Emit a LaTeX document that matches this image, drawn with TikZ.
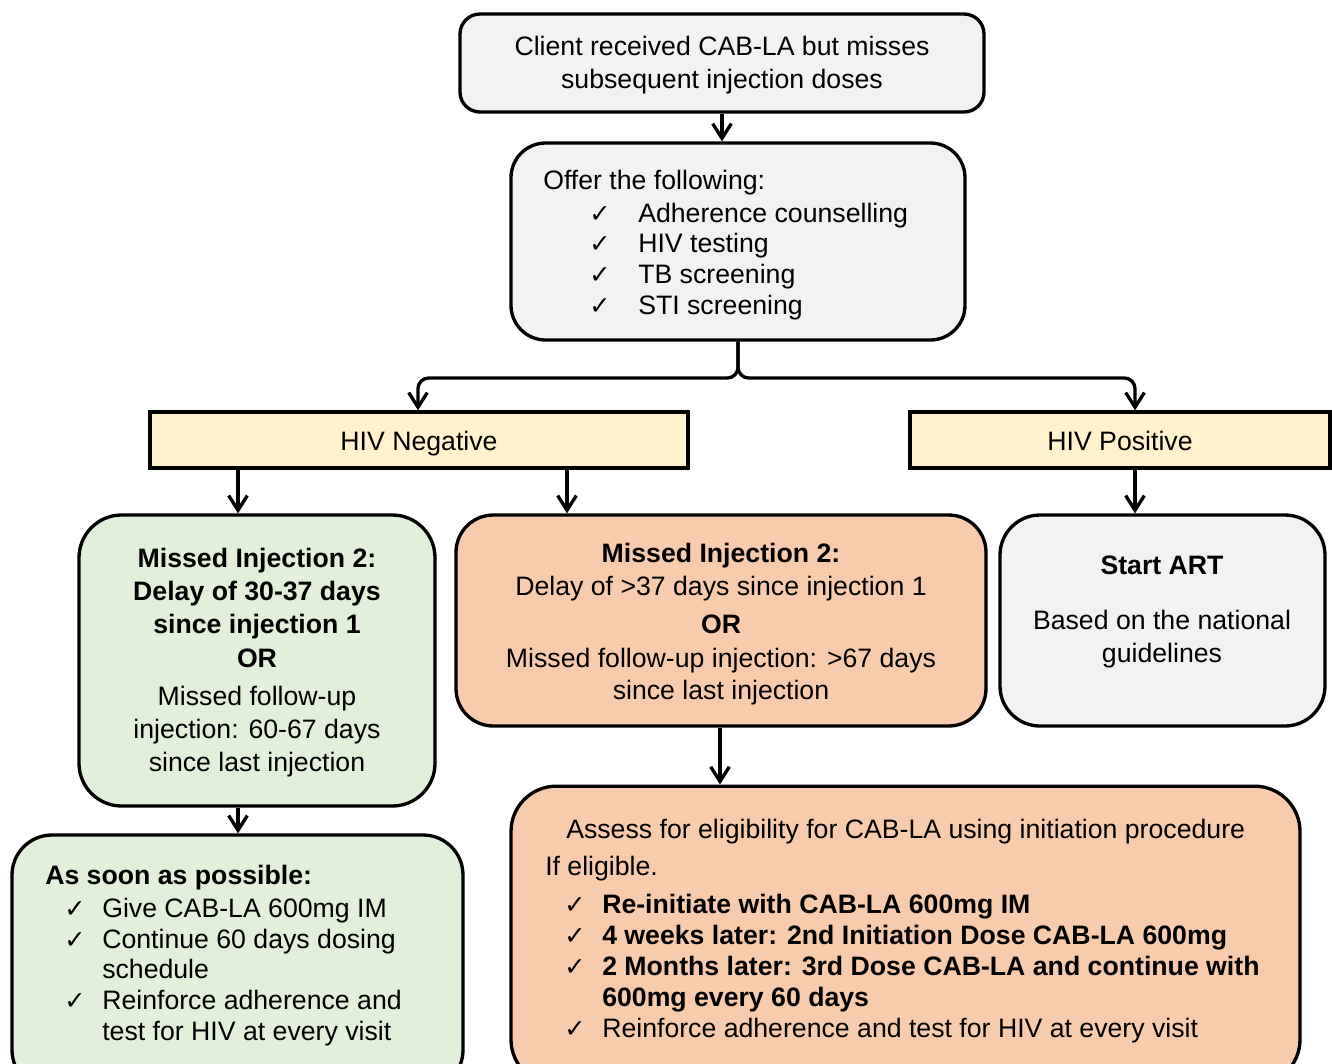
\documentclass[tikz,border=0pt]{standalone}
\usepackage{fontspec}
\setmainfont{Liberation Sans}
\newfontfamily\symfont{DejaVu Sans}
\usetikzlibrary{arrows.meta}
\definecolor{boxgray}{HTML}{F2F2F2}
\definecolor{boxyellow}{HTML}{FFF2CC}
\definecolor{boxgreen}{HTML}{E2EFDA}
\definecolor{boxorange}{HTML}{F8CBAD}
\tikzset{
  box/.style={draw=black, line width=2.5pt, fill=#1, inner sep=0pt},
  hivbox/.style={box=boxyellow, minimum height=42pt, font=\fontsize{20pt}{24pt}\selectfont, text height=19pt, text depth=4pt},
  txt/.style={inner sep=0pt, font=\fontsize{20pt}{24pt}\selectfont, anchor=base},
  txtl/.style={txt, anchor=base west},
  chk/.style={inner sep=0pt, font=\symfont\fontsize{19pt}{22pt}\selectfont, anchor=base},
  arr/.style={line width=2.5pt, -{Straight Barb[length=11pt,width=14pt]}},
}
\begin{document}
\begin{tikzpicture}[x=0.75pt,y=-0.75pt]
\clip (0,0) rectangle (1332,1064);
\fill[white] (0,0) rectangle (1332,1064);

% boxes
\node[box=boxgray, rounded corners=15pt, minimum width=393pt, minimum height=73.5pt] (top) at (722,63) {};
\node[box=boxgray, rounded corners=26pt, minimum width=340.5pt, minimum height=147.75pt] (offer) at (738,241.5) {};
\node[hivbox, minimum width=403.5pt] (hivneg) at (419,440) {HIV Negative};
\node[hivbox, minimum width=315pt] (hivpos) at (1120,440) {HIV Positive};
\node[box=boxgreen, rounded corners=32pt, minimum width=267pt, minimum height=218.25pt] (green) at (257,660.5) {};
\node[box=boxorange, rounded corners=28pt, minimum width=397.5pt, minimum height=158.25pt] (orange) at (721,620.5) {};
\node[box=boxgray, rounded corners=30pt, minimum width=243.75pt, minimum height=158.25pt] (art) at (1162.5,620.5) {};
\node[box=boxgreen, rounded corners=30pt, minimum width=338.25pt, minimum height=191.25pt] (green2) at (237.5,962.5) {};
\node[box=boxorange, rounded corners=34pt, minimum width=591.75pt, minimum height=224pt] (orange2) at (905.5,935.5) {};

% helper coordinates
\coordinate (xa) at (238,0);
\coordinate (xb) at (567,0);
\coordinate (xc) at (1135,0);
\coordinate (xd) at (720,0);
\coordinate (xe) at (722,0);
\coordinate (xl) at (418,0);
\coordinate (yb) at (0,378);

% connectors
\draw[arr] (top.south -| xe) -- (offer.north -| xe);
\draw[arr, rounded corners=8pt] (offer.south) |- (xl |- yb) -- (xl |- hivneg.north);
\draw[arr, rounded corners=8pt] (offer.south) |- (xc |- yb) -- (xc |- hivpos.north);
\draw[arr] (hivneg.south -| xa) -- (green.north -| xa);
\draw[arr] (hivneg.south -| xb) -- (orange.north -| xb);
\draw[arr] (hivpos.south -| xc) -- (art.north -| xc);
\draw[arr] (green.south -| xa) -- (green2.north -| xa);
\draw[arr] (orange.south -| xd) -- (orange2.north -| xd);

% top text
\node[txt] (t1) at (722,55) {Client received CAB-LA but misses};
\node[txt] (t2) at (722,88) {subsequent injection doses};

% offer
\node[txtl] (o0) at (543,189) {Offer the following:};
\node[chk] (oc1) at (600,222) {✓};
\node[chk] (oc2) at (600,252) {✓};
\node[chk] (oc3) at (600,283) {✓};
\node[chk] (oc4) at (600,314) {✓};
\node[txtl] (o1) at (638,222) {Adherence counselling};
\node[txtl] (o2) at (638,252) {HIV testing};
\node[txtl] (o3) at (638,283) {TB screening};
\node[txtl] (o4) at (638,314) {STI screening};

% green box
\node[txt, font=\bfseries\fontsize{20pt}{24pt}\selectfont] (g1) at (257,567) {Missed Injection 2:};
\node[txt, font=\bfseries\fontsize{20pt}{24pt}\selectfont] (g2) at (257,600) {Delay of 30-37 days};
\node[txt, font=\bfseries\fontsize{20pt}{24pt}\selectfont] (g3) at (257,633) {since injection 1};
\node[txt, font=\bfseries\fontsize{20pt}{24pt}\selectfont] (g4) at (257,667) {OR};
\node[txt] (g5) at (257,705) {Missed follow-up};
\node[txt] (g6) at (257,738) {injection: 60-67 days};
\node[txt] (g7) at (257,771) {since last injection};

% orange box
\node[txt, font=\bfseries\fontsize{20pt}{24pt}\selectfont] (r1) at (721,562) {Missed Injection 2:};
\node[txt] (r2) at (721,595) {Delay of >37 days since injection 1};
\node[txt, font=\bfseries\fontsize{20pt}{24pt}\selectfont] (r3) at (721,633) {OR};
\node[txt] (r4) at (721,667) {Missed follow-up injection: >67 days};
\node[txt] (r5) at (721,699) {since last injection};

% start ART
\node[txt, font=\bfseries\fontsize{20pt}{24pt}\selectfont] (a1) at (1162,574) {Start ART};
\node[txt] (a2) at (1162,629) {Based on the national};
\node[txt] (a3) at (1162,662) {guidelines};

% green2
\node[txtl, font=\bfseries\fontsize{20pt}{24pt}\selectfont] (s0) at (45,884) {As soon as possible:};
\node[chk] (sc1) at (75,917) {✓};
\node[chk] (sc2) at (75,948) {✓};
\node[chk] (sc3) at (75,1009) {✓};
\node[txtl] (s1) at (102,917) {Give CAB-LA 600mg IM};
\node[txtl] (s2) at (102,948) {Continue 60 days dosing};
\node[txtl] (s3) at (102,978) {schedule};
\node[txtl] (s4) at (102,1009) {Reinforce adherence and};
\node[txtl] (s5) at (102,1040) {test for HIV at every visit};

% orange2
\node[txtl] (e0) at (566,838) {Assess for eligibility for CAB-LA using initiation procedure};
\node[txtl] (e1) at (545,875) {If eligible.};
\node[chk] (ec1) at (575,913) {✓};
\node[chk] (ec2) at (575,944) {✓};
\node[chk] (ec3) at (575,975) {✓};
\node[chk] (ec4) at (575,1037) {✓};
\node[txtl, font=\bfseries\fontsize{20pt}{24pt}\selectfont] (e2) at (602,913) {Re-initiate with CAB-LA 600mg IM};
\node[txtl, font=\bfseries\fontsize{20pt}{24pt}\selectfont] (e3) at (602,944) {4 weeks later: 2nd Initiation Dose CAB-LA 600mg};
\node[txtl, font=\bfseries\fontsize{20pt}{24pt}\selectfont] (e4) at (602,975) {2 Months later: 3rd Dose CAB-LA and continue with};
\node[txtl, font=\bfseries\fontsize{20pt}{24pt}\selectfont] (e5) at (602,1006) {600mg every 60 days};
\node[txtl] (e6) at (602,1037) {Reinforce adherence and test for HIV at every visit};
\end{tikzpicture}
\end{document}
